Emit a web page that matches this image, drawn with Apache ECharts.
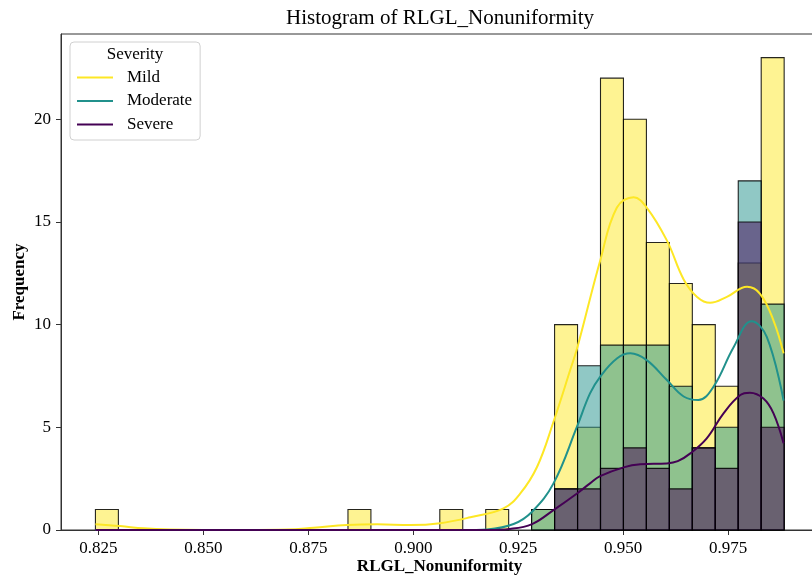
<!DOCTYPE html>
<html>
<head>
<meta charset="utf-8">
<script src="https://cdn.jsdelivr.net/npm/echarts@6/dist/echarts.min.js"></script>
<style>
  html, body { margin: 0; padding: 0; background: #fff; }
  #chart { width: 812px; height: 578px; }
</style>
</head>
<body>
<div id="chart"></div>
<script>
// histogram bins (30 bins of equal width)
var binStart = 0.8243;
var binWidth = 0.005468;

// counts per bin, index 0..29
var mildCounts     = [1,0,0,0,0,0,0,0,0,0, 0,1,0,0,0,1,0,1,0,1, 10,5,22,20,14,12,10,7,13,23];
var moderateCounts = [0,0,0,0,0,0,0,0,0,0, 0,0,0,0,0,0,0,0,0,1, 2,8,9,9,9,7,4,5,17,11];
var severeCounts   = [0,0,0,0,0,0,0,0,0,0, 0,0,0,0,0,0,0,0,0,0, 2,2,3,4,3,2,4,3,15,5];

// kde curves
var mildKdeX = [0.8243,0.8302,0.8358,0.8421,0.8500,0.8600,0.8699,0.8763,0.8842,0.8914,0.8993,0.9064,0.9136,0.9215,0.9255,0.9295,0.9334,0.9374,0.9391,0.9445,0.9485,0.9525,0.9556,0.9604,0.9644,0.9676,0.9707,0.9747,0.9795,0.9826,0.9858,0.9882];
var mildKdeY = [0.28,0.19,0.08,0.02,0,0,0.02,0.11,0.24,0.28,0.24,0.33,0.62,1.05,1.78,3.08,5.27,7.8,8.9,13.1,15.7,16.2,15.7,14.1,12.2,11.35,11.06,11.35,11.84,11.5,10.2,8.6];

var moderateKdeX = [0.8243,0.9150,0.9176,0.9239,0.9283,0.9334,0.9390,0.9421,0.9445,0.9485,0.9517,0.9556,0.9604,0.9644,0.9679,0.9715,0.9763,0.9806,0.9842,0.9882];
var moderateKdeY = [0,0,0.02,0.29,0.89,2.27,5.03,6.65,7.46,8.35,8.6,8.27,7.3,6.5,6.33,6.97,8.9,10.17,9.4,6.3];

var severeKdeX = [0.8243,0.9180,0.9230,0.9283,0.9334,0.9390,0.9421,0.9445,0.9501,0.9541,0.9604,0.9630,0.9660,0.9699,0.9739,0.9779,0.9802,0.9834,0.9858,0.9882];
var severeKdeY = [0,0,0.05,0.29,0.97,1.78,2.27,2.62,3.05,3.2,3.24,3.35,3.73,4.46,5.68,6.57,6.68,6.4,5.68,4.22];

var xTicks = [0.825, 0.850, 0.875, 0.900, 0.925, 0.950, 0.975];
var yTicks = [0, 5, 10, 15, 20];

var serif = "'Liberation Serif', 'Times New Roman', serif";
var colors = { Mild: '#fde725', Moderate: '#21918c', Severe: '#440154' };
var fills  = { Mild: 'rgba(253,231,37,0.5)', Moderate: 'rgba(33,145,140,0.5)', Severe: 'rgba(68,1,84,0.5)' };

function binData(counts) {
    var out = [];
    for (var i = 0; i < counts.length; i++) {
        if (counts[i] > 0) {
            out.push([binStart + i * binWidth, binStart + (i + 1) * binWidth, counts[i]]);
        }
    }
    return out;
}

function pairs(xs, ys) {
    return xs.map(function (x, i) { return [x, ys[i]]; });
}

function histSeries(name, counts) {
    return {
        type: 'custom',
        name: name + ' hist',
        z: 2,
        encode: { x: [0, 1], y: 2 },
        data: binData(counts),
        renderItem: function (params, api) {
            var p0 = api.coord([api.value(0), api.value(2)]);
            var p1 = api.coord([api.value(1), 0]);
            return {
                type: 'rect',
                shape: { x: p0[0], y: p0[1], width: p1[0] - p0[0], height: p1[1] - p0[1] },
                style: { fill: fills[name], stroke: 'rgba(0,0,0,0.85)', lineWidth: 1.1 }
            };
        }
    };
}

function kdeSeries(name, xs, ys) {
    return {
        type: 'line',
        name: name,
        z: 3,
        data: pairs(xs, ys),
        smooth: 0.4,
        showSymbol: false,
        color: colors[name],
        lineStyle: { color: colors[name], width: 2 }
    };
}

var chart = echarts.init(document.getElementById('chart'));
chart.setOption({
    animation: false,
    textStyle: { fontFamily: serif },
    grid: {
        left: 61, top: 34, width: 757, height: 496,
        outerBoundsMode: 'none',
        containLabel: false,
        show: true, borderColor: '#333', borderWidth: 1
    },
    xAxis: {
        type: 'value',
        min: 0.8161,
        max: 0.9964,
        name: 'RLGL_Nonuniformity',
        nameLocation: 'middle',
        nameGap: 28,
        nameMoveOverlap: false,
        nameTextStyle: { fontSize: 17, fontWeight: 'bold', color: '#000', fontFamily: serif },
        axisLine: { show: true, lineStyle: { color: '#333', width: 1 } },
        axisTick: { show: true, length: 5, customValues: xTicks, lineStyle: { color: '#333' } },
        axisLabel: {
            customValues: xTicks, fontSize: 17, color: '#000', margin: 10, fontFamily: serif,
            formatter: function (v) { return v.toFixed(3); }
        },
        splitLine: { show: false }
    },
    yAxis: {
        type: 'value',
        min: 0,
        max: 24.15,
        name: 'Frequency',
        nameLocation: 'middle',
        nameGap: 33,
        nameRotate: 90,
        nameMoveOverlap: false,
        nameTextStyle: { fontSize: 17, fontWeight: 'bold', color: '#000', fontFamily: serif },
        axisLine: { show: true, lineStyle: { color: '#333', width: 1 } },
        axisTick: { show: true, length: 5, customValues: yTicks, lineStyle: { color: '#333' } },
        axisLabel: { customValues: yTicks, fontSize: 17, color: '#000', margin: 10, fontFamily: serif },
        splitLine: { show: false }
    },
    legend: {
        data: ['Mild', 'Moderate', 'Severe'],
        orient: 'vertical',
        left: 70,
        top: 42,
        padding: [27, 8, 7, 7],
        itemWidth: 36,
        itemHeight: 2,
        itemGap: 6.5,
        icon: 'rect',
        backgroundColor: 'rgba(255,255,255,0.85)',
        borderColor: '#d0d0d0',
        borderWidth: 1,
        borderRadius: 4,
        textStyle: { fontSize: 17, lineHeight: 17, color: '#000', fontFamily: serif, padding: [0, 0, 0, 9] }
    },
    graphic: [
        {
            type: 'text', x: 440, y: 18, z: 100,
            style: { text: 'Histogram of RLGL_Nonuniformity', font: '21px ' + serif, fill: '#000', textAlign: 'center', textVerticalAlign: 'middle' }
        },
        {
            type: 'text', x: 135, y: 55, z: 100,
            style: { text: 'Severity', font: '17px ' + serif, fill: '#000', textAlign: 'center', textVerticalAlign: 'middle' }
        }
    ],
    series: [
        histSeries('Mild', mildCounts),
        histSeries('Moderate', moderateCounts),
        histSeries('Severe', severeCounts),
        kdeSeries('Mild', mildKdeX, mildKdeY),
        kdeSeries('Moderate', moderateKdeX, moderateKdeY),
        kdeSeries('Severe', severeKdeX, severeKdeY)
    ]
});
</script>
</body>
</html>
